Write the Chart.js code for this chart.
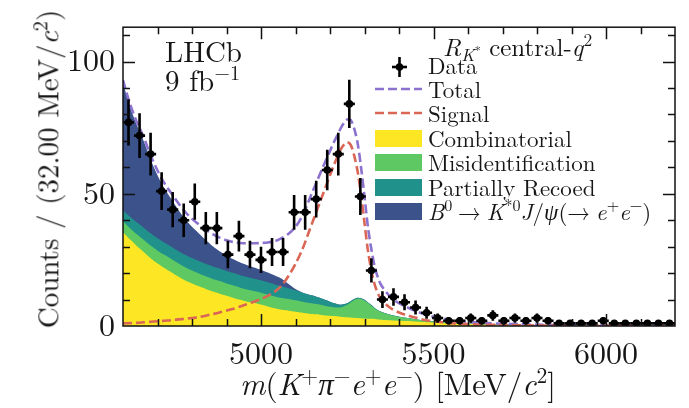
<!DOCTYPE html>
<html>
<head>
<meta charset="utf-8">
<script src="https://cdn.jsdelivr.net/npm/chart.js@4.4.1/dist/chart.umd.min.js"></script>
<style>
  html, body { margin: 0; padding: 0; background: #fff; }
  #wrap { position: relative; width: 689px; height: 408px; overflow: hidden;
          font-family: "Latin Modern Roman", "Liberation Serif", serif; color: #161616; }
  #chart { position: absolute; left: 0; top: 0; }
  .lbl { position: absolute; white-space: nowrap; line-height: 1; }
  .up { font-size: 0.7em; position: relative; top: -0.55em; }
  .dn { font-size: 0.7em; position: relative; top: 0.3em; }
  .legend .lbl { font-size: 23px; left: 428px; }
  .sym { position: absolute; left: 375px; width: 47px; }
</style>
</head>
<body>
<div id="wrap">
  <canvas id="chart" width="689" height="408"></canvas>

  <div class="lbl" style="left:165px; top:35px; font-size:29px;">LHCb</div>
  <div class="lbl" style="left:165px; top:64px; font-size:29px;">9 fb<span class="up">−1</span></div>

  <div class="lbl" style="left:443px; top:33px; font-size:25px;"><i>R</i><span class="dn"><i>K</i><span class="up">*</span></span> central-<i>q</i><span class="up">2</span></div>

  <div class="legend">
    <svg class="sym" style="top:56px; height:22px;" width="47" height="22">
      <line x1="17" y1="11" x2="32" y2="11" stroke="#000" stroke-width="2.6"/>
      <line x1="24.5" y1="1" x2="24.5" y2="21" stroke="#000" stroke-width="2.6"/>
      <circle cx="24.5" cy="11" r="3.8" fill="#000"/>
    </svg>
    <div class="lbl" style="top:53px;">Data</div>

    <svg class="sym" style="top:84px; height:10px;" width="47" height="10">
      <line x1="0" y1="5" x2="47" y2="5" stroke="#8c72cf" stroke-width="2.6" stroke-dasharray="9 4"/>
    </svg>
    <div class="lbl" style="top:77px;">Total</div>

    <svg class="sym" style="top:108px; height:10px;" width="47" height="10">
      <line x1="0" y1="5" x2="47" y2="5" stroke="#da6656" stroke-width="2.6" stroke-dasharray="9 4"/>
    </svg>
    <div class="lbl" style="top:101px;">Signal</div>

    <div class="sym" style="top:130px; height:17px; background:#fde725;"></div>
    <div class="lbl" style="top:126px;">Combinatorial</div>

    <div class="sym" style="top:154px; height:17px; background:#5ec962;"></div>
    <div class="lbl" style="top:150px;">Misidentification</div>

    <div class="sym" style="top:179px; height:17px; background:#21918c;"></div>
    <div class="lbl" style="top:175px;">Partially Recoed</div>

    <div class="sym" style="top:203px; height:17px; background:#3b528b;"></div>
    <div class="lbl" style="top:199px;"><i>B</i><span class="up">0</span>&#8197;→&#8197;<i>K</i><span class="up">*0</span><i>J</i>/<i>ψ</i>(→&#8197;<i>e</i><span class="up">+</span><i>e</i><span class="up">−</span>)</div>
  </div>

  <div class="lbl" style="left:46px; top:169px; font-size:29px; transform: translate(-50%, -50%) rotate(-90deg);">Counts / (32.00 MeV/<i>c</i><span class="up">2</span>)</div>
  <div class="lbl" style="left:398px; top:367px; font-size:31px; transform: translateX(-50%);"><i>m</i>(<i>K</i><span class="up">+</span><i>π</i><span class="up">−</span><i>e</i><span class="up">+</span><i>e</i><span class="up">−</span>) [MeV/<i>c</i><span class="up">2</span>]</div>
</div>

<script>
// Binned data, 32 MeV bins
const binCenters = [4616, 4648, 4680, 4712, 4744, 4776, 4808, 4840, 4872, 4904,
  4936, 4968, 5000, 5032, 5064, 5096, 5128, 5160, 5192, 5224,
  5256, 5288, 5320, 5352, 5384, 5416, 5448, 5480, 5512, 5544,
  5576, 5608, 5640, 5672, 5704, 5736, 5768, 5800, 5832, 5864,
  5896, 5928, 5960, 5992, 6024, 6056, 6088, 6120, 6152, 6184];
const dataCounts = [77, 72, 65, 51, 44, 40, 47, 37, 37, 27,
  34, 27, 25, 28, 28, 43, 43, 48, 59, 65,
  84, 49, 21, 10, 11, 9, 7, 5, 3, 2,
  2, 3, 2, 4, 2, 3, 2, 3, 2, 1,
  1, 1, 1, 2, 1, 1, 1, 1, 1, 1];
const binHalfWidth = 16;

// Fit components, sampled along the mass axis
const curveMass = [4600, 4620, 4640, 4660, 4680, 4700, 4720, 4740, 4760, 4780,
  4800, 4820, 4840, 4860, 4880, 4900, 4920, 4940, 4960, 4980,
  5000, 5020, 5040, 5060, 5080, 5100, 5120, 5140,
  5150, 5160, 5170, 5180, 5190, 5200, 5210, 5220, 5230, 5240,
  5250, 5260, 5270, 5280, 5290, 5300, 5310, 5320, 5330, 5340, 5350,
  5375, 5400, 5425, 5450, 5475, 5500,
  5550, 5600, 5650, 5700, 5750, 5800, 5850, 5900, 5950, 6000, 6050, 6100, 6150, 6200];
const combinatorial = [35.5, 32.8, 30.3, 28.0, 25.6, 23.6, 21.9, 20.3, 18.7, 17.2,
  16.1, 15.0, 14.0, 13.0, 12.2, 11.4, 10.6, 9.9, 9.2, 8.7,
  8.1, 7.4, 6.7, 6.1, 5.8, 5.4, 5.0, 4.6,
  4.5, 4.4, 4.3, 4.1, 4.0, 3.9, 3.8, 3.7, 3.5, 3.4,
  3.3, 3.2, 3.1, 3.0, 2.9, 2.8, 2.7, 2.7, 2.6, 2.5, 2.4,
  2.2, 2.0, 1.9, 1.7, 1.5, 1.3,
  1.0, 0.8, 0.6, 0.5, 0.4, 0.3, 0.25, 0.2, 0.15, 0.12, 0.1, 0.08, 0.06, 0.05];
const misidentification = [4.0, 4.2, 4.4, 4.6, 4.8, 4.9, 5.0, 5.0, 5.0, 5.0,
  4.9, 4.9, 4.8, 4.8, 4.8, 4.7, 4.7, 4.6, 4.6, 4.5,
  4.5, 4.5, 4.5, 4.5, 4.4, 4.3, 4.2, 4.1,
  4.0, 3.9, 3.8, 3.7, 3.5, 3.4, 3.3, 3.3, 3.5, 4.0,
  4.7, 5.7, 6.7, 7.3, 7.3, 6.8, 6.0, 5.0, 4.0, 3.3, 2.8,
  2.0, 1.5, 1.1, 0.8, 0.6, 0.4,
  0.2, 0.1, 0.05, 0.03, 0.02, 0.01, 0, 0, 0, 0, 0, 0, 0, 0];
const partiallyRecoed = [4.2, 4.4, 4.5, 4.6, 4.7, 4.7, 4.7, 4.7, 4.7, 4.7,
  4.7, 4.7, 4.7, 4.7, 4.7, 4.7, 4.7, 4.7, 4.7, 4.7,
  4.7, 4.6, 4.5, 4.4, 4.1, 3.8, 3.4, 3.1,
  3.0, 2.8, 2.6, 2.4, 2.2, 1.9, 1.6, 1.3, 1.0, 0.8,
  0.6, 0.5, 0.4, 0.4, 0.3, 0.3, 0.2, 0.2, 0.1, 0.1, 0.1,
  0.05, 0, 0, 0, 0, 0,
  0, 0, 0, 0, 0, 0, 0, 0, 0, 0, 0, 0, 0, 0];
const jpsiLeakage = [48.3, 41.6, 36.8, 32.8, 27.9, 23.8, 20.4, 18.0, 15.6, 13.6,
  11.8, 10.4, 9.0, 7.7, 6.6, 5.8, 5.2, 4.8, 4.5, 4.2,
  3.9, 3.7, 3.4, 2.9, 1.6, 0.5, 0.1, 0,
  0, 0, 0, 0, 0, 0, 0, 0, 0, 0,
  0, 0, 0, 0, 0, 0, 0, 0, 0, 0, 0,
  0, 0, 0, 0, 0, 0,
  0, 0, 0, 0, 0, 0, 0, 0, 0, 0, 0, 0, 0, 0];
const signal = [1.0, 1.1, 1.2, 1.4, 1.6, 1.8, 2.0, 2.2, 2.5, 2.7,
  3.0, 3.4, 3.9, 4.5, 5.1, 5.8, 6.5, 7.4, 8.3, 9.2,
  10.2, 11.4, 13.0, 15.3, 19.0, 23.5, 29.0, 36.0,
  39.5, 43.0, 46.5, 50.0, 53.5, 57.0, 60.5, 63.5, 66.5, 68.5,
  69.5, 68.5, 64.5, 58.5, 49.5, 39.0, 28.5, 21.0, 15.5, 12.0, 9.8,
  6.8, 5.1, 4.0, 3.1, 2.3, 1.8,
  1.1, 0.7, 0.5, 0.35, 0.25, 0.2, 0.15, 0.1, 0.08, 0.06, 0.05, 0.04, 0.03, 0.03];

const xTickLabels = [5000, 5500, 6000];
const yTickLabels = [0, 50, 100];

// stack tops for the filled components
const layers = [combinatorial, misidentification, partiallyRecoed, jpsiLeakage];
const tops = [];
let run = curveMass.map(() => 0);
layers.forEach(arr => {
  run = run.map((v, i) => v + arr[i]);
  tops.push(run.slice());
});
const total = curveMass.map((m, i) => tops[3][i] + signal[i]);

const pts = arr => curveMass.map((m, i) => ({ x: m, y: arr[i] }));

const area = (arr, color, order) => ({
  data: pts(arr),
  backgroundColor: color,
  borderWidth: 0,
  pointRadius: 0,
  fill: 'origin',
  tension: 0.3,
  order: order
});

const errorBars = {
  id: 'errorBars',
  afterDatasetsDraw(chart) {
    const ctx = chart.ctx, xs = chart.scales.x, ys = chart.scales.y;
    ctx.save();
    ctx.strokeStyle = '#000';
    ctx.lineWidth = 2.6;
    binCenters.forEach((m, i) => {
      const n = dataCounts[i];
      const err = Math.sqrt(n);
      const px = xs.getPixelForValue(m);
      const py = ys.getPixelForValue(n);
      ctx.beginPath();
      ctx.moveTo(xs.getPixelForValue(m - binHalfWidth), py);
      ctx.lineTo(xs.getPixelForValue(m + binHalfWidth), py);
      ctx.moveTo(px, ys.getPixelForValue(n + err));
      ctx.lineTo(px, ys.getPixelForValue(Math.max(0, n - err)));
      ctx.stroke();
    });
    ctx.restore();
  }
};

// frame with inward ticks on all four sides
const frame = {
  id: 'frame',
  afterDraw(chart) {
    const ctx = chart.ctx, a = chart.chartArea, xs = chart.scales.x, ys = chart.scales.y;
    ctx.save();
    ctx.strokeStyle = '#111';
    ctx.lineWidth = 1.5;
    ctx.strokeRect(a.left, a.top, a.right - a.left, a.bottom - a.top);
    ctx.beginPath();
    for (let m = 4700; m < 6200; m += 100) {
      const px = Math.round(xs.getPixelForValue(m)) + 0.5;
      const len = m % 500 === 0 ? 12 : 7;
      ctx.moveTo(px, a.bottom); ctx.lineTo(px, a.bottom - len);
      ctx.moveTo(px, a.top); ctx.lineTo(px, a.top + len);
    }
    for (let v = 10; v < 113; v += 10) {
      const py = Math.round(ys.getPixelForValue(v)) + 0.5;
      const len = v % 50 === 0 ? 12 : 7;
      ctx.moveTo(a.left, py); ctx.lineTo(a.left + len, py);
      ctx.moveTo(a.right, py); ctx.lineTo(a.right - len, py);
    }
    ctx.stroke();
    ctx.restore();
  }
};

Chart.defaults.font.family = "'Latin Modern Roman', 'Liberation Serif', serif";
Chart.defaults.color = '#161616';

new Chart(document.getElementById('chart').getContext('2d'), {
  type: 'line',
  data: {
    datasets: [
      area(tops[3], '#3b528b', 6),
      area(tops[2], '#21918c', 5),
      area(tops[1], '#5ec962', 4),
      area(tops[0], '#fde725', 3),
      {
        data: pts(total),
        borderColor: '#8c72cf',
        borderWidth: 2.6,
        borderDash: [9, 4],
        pointRadius: 0,
        fill: false,
        tension: 0.3,
        order: 2
      },
      {
        data: pts(signal),
        borderColor: '#da6656',
        borderWidth: 2.6,
        borderDash: [9, 4],
        pointRadius: 0,
        fill: false,
        tension: 0.3,
        order: 1
      },
      {
        data: binCenters.map((m, i) => ({ x: m, y: dataCounts[i] })),
        showLine: false,
        pointRadius: 3.8,
        pointBackgroundColor: '#000',
        pointBorderColor: '#000',
        pointBorderWidth: 0,
        order: 0
      }
    ]
  },
  options: {
    responsive: false,
    animation: false,
    layout: { padding: { top: 7, right: 14, left: 0, bottom: 0 } },
    plugins: {
      legend: { display: false },
      tooltip: { enabled: false }
    },
    scales: {
      x: {
        type: 'linear',
        min: 4600,
        max: 6200,
        grid: { display: false, drawTicks: false },
        border: { display: false },
        ticks: { font: { size: 32 }, padding: 9, maxRotation: 0, autoSkip: false, callback: v => String(v) },
        afterBuildTicks: s => { s.ticks = xTickLabels.map(v => ({ value: v })); },
        afterFit: s => { s.height = 82; }
      },
      y: {
        min: 0,
        max: 113,
        grid: { display: false, drawTicks: false },
        border: { display: false },
        ticks: { font: { size: 32 }, padding: 8, callback: v => String(v) },
        afterBuildTicks: s => { s.ticks = yTickLabels.map(v => ({ value: v })); },
        afterFit: s => { s.width = 123; }
      }
    }
  },
  plugins: [errorBars, frame]
});
</script>
</body>
</html>
